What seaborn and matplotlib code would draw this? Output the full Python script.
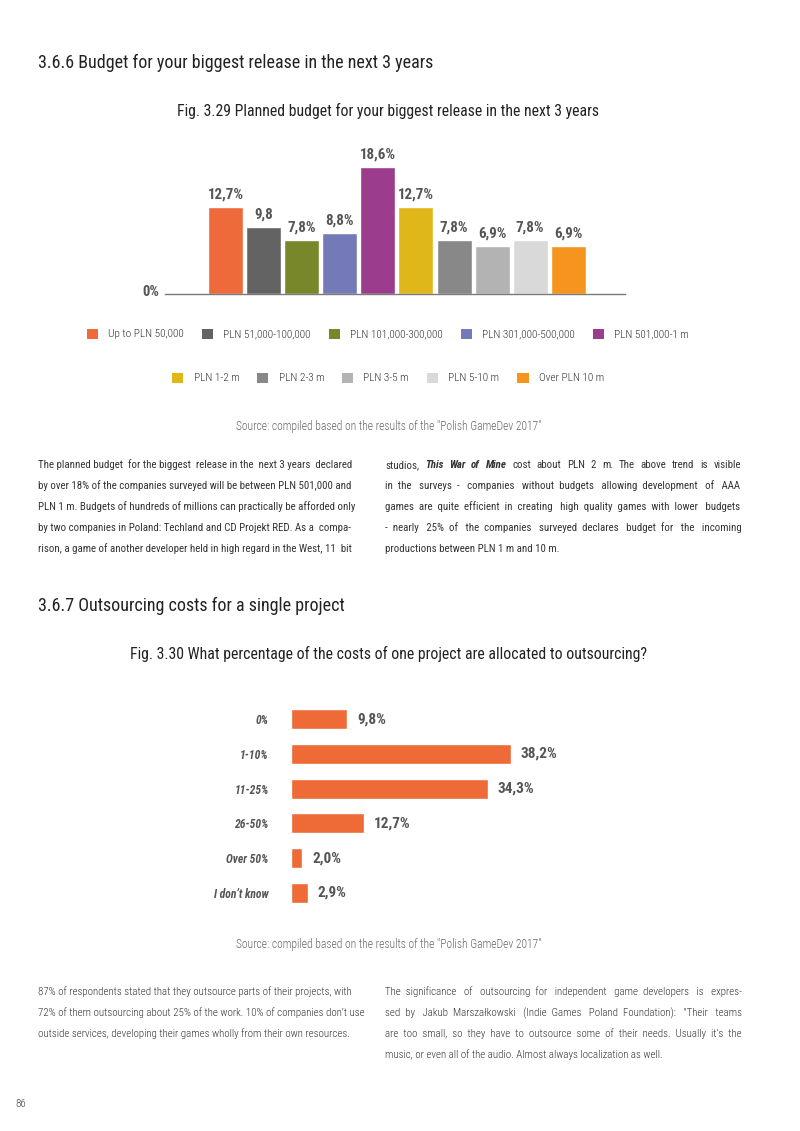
import matplotlib
matplotlib.use("Agg")
import matplotlib.pyplot as plt
import seaborn as sns
import pandas as pd
from matplotlib.patches import Patch

# data
budget_labels = ["Up to PLN 50,000", "PLN 51,000-100,000", "PLN 101,000-300,000",
                 "PLN 301,000-500,000", "PLN 501,000-1 m", "PLN 1-2 m", "PLN 2-3 m",
                 "PLN 3-5 m", "PLN 5-10 m", "Over PLN 10 m"]
budget_values = [12.7, 9.8, 7.8, 8.8, 18.6, 12.7, 7.8, 6.9, 7.8, 6.9]
budget_texts = ["12,7%", "9,8", "7,8%", "8,8%", "18,6%", "12,7%", "7,8%", "6,9%", "7,8%", "6,9%"]
budget_colors = ["#EE6A3A", "#636363", "#788729", "#7479B8", "#9B3C8C",
                 "#E0B719", "#888888", "#B3B3B3", "#D9D9D9", "#F5951F"]

outsourcing_labels = ["0%", "1-10%", "11-25%", "26-50%", "Over 50%", "I don\u2019t know"]
outsourcing_values = [9.8, 38.2, 34.3, 12.7, 2.0, 2.9]

para1_left = [
    "The planned budget for the biggest release in the next 3 years declared",
    "by over 18% of the companies surveyed will be between PLN 501,000 and",
    "PLN 1 m. Budgets of hundreds of millions can practically be afforded only",
    "by two companies in Poland: Techland and CD Projekt RED. As a compa-",
    "rison, a game of another developer held in high regard in the West, 11 bit",
]
para1_right = [
    "studios, *This War of Mine* cost about PLN 2 m. The above trend is visible",
    "in the surveys - companies without budgets allowing development of AAA",
    "games are quite efficient in creating high quality games with lower budgets",
    "- nearly 25% of the companies surveyed declares budget for the incoming",
    "productions between PLN 1 m and 10 m.",
]
para2_left = [
    "87% of respondents stated that they outsource parts of their projects, with",
    "72% of them outsourcing about 25% of the work. 10% of companies don\u2019t use",
    "outside services, developing their games wholly from their own resources.",
]
para2_right = [
    "The significance of outsourcing for independent game developers is expres-",
    "sed by Jakub Marsza\u0142kowski (Indie Games Poland Foundation): \"Their teams",
    "are too small, so they have to outsource some of their needs. Usually it\u2019s the",
    "music, or even all of the audio. Almost always localization as well.",
]
source_note = "Source: compiled based on the results of the \"Polish GameDev 2017\""

sns.set_style("white")
plt.rcParams["font.family"] = ["Roboto Condensed", "DejaVu Sans"]

W, H = 800, 1131
fig = plt.figure(figsize=(W / 100, H / 100), dpi=100)
renderer = fig.canvas.get_renderer()
DARK = "#222222"
GREY = "#555555"


def fx(x):
    return x / W


def fy(y):
    return 1 - y / H


def add_ax(left, top, width, height):
    return fig.add_axes([fx(left), fy(top + height), width / W, height / H])


def text_width(s, **kw):
    t = fig.text(0, 0, s, **kw)
    w = t.get_window_extent(renderer).width
    t.remove()
    return w


def paragraph(lines, x0, x1, y0, size, weight, justify_last=False, step=21):
    kw = dict(size=size, weight=weight, color="#333333", va="baseline")
    sp = text_width("a b", size=size, weight=weight) - text_width("ab", size=size, weight=weight)
    for k, line in enumerate(lines):
        y = fy(y0 + k * step)
        justify = justify_last or k < len(lines) - 1
        if "*" not in line:
            words = line.split(" ")
            if justify and len(words) > 1:
                extra = round((x1 - x0 - text_width(line, size=size, weight=weight)) / sp)
                extra = max(extra, 0)
                gaps = len(words) - 1
                out = words[0]
                for i, w in enumerate(words[1:]):
                    n = 1 + (extra * (i + 1)) // gaps - (extra * i) // gaps
                    out += " " * n + w
                line = out
            fig.text(fx(x0), y, line, **kw)
            continue
        # line with a bold italic title: place word by word
        words, styled, inside = [], [], False
        for w in line.split(" "):
            if w.startswith("*"):
                inside = True
            words.append(w.strip("*"))
            styled.append(inside)
            if w.endswith("*"):
                inside = False
        texts, widths = [], []
        for w, s in zip(words, styled):
            t = fig.text(0, y, w, **dict(kw, weight="bold" if s else weight,
                                         style="italic" if s else "normal"))
            texts.append(t)
            widths.append(t.get_window_extent(renderer).width)
        gap = (x1 - x0 - sum(widths)) / (len(words) - 1) if justify else sp
        x = x0
        for t, w in zip(texts, widths):
            t.set_x(fx(x))
            x += w + gap


# ---- section 3.6.6 ----
fig.text(fx(38), fy(68), "3.6.6 Budget for your biggest release in the next 3 years",
         size=13, color=DARK, va="baseline")
fig.text(fx(388), fy(116), "Fig. 3.29 Planned budget for your biggest release in the next 3 years",
         size=11.3, color=DARK, ha="center", va="baseline")

df1 = pd.DataFrame({"budget": budget_labels, "value": budget_values})
ax1 = add_ax(165, 140, 460, 153.5)
sns.barplot(data=df1, x="budget", y="value", hue="budget", order=budget_labels,
            hue_order=budget_labels, palette=budget_colors, saturation=1, width=0.92,
            legend=False, ax=ax1)
ax1.set_xlim(-1.59, 10.49)
ax1.set_ylim(0, 22.5)
ax1.set_xticks([])
ax1.set_yticks([])
ax1.set_xlabel("")
ax1.set_ylabel("")
for s in ["top", "left", "right"]:
    ax1.spines[s].set_visible(False)
ax1.spines["bottom"].set_color("#7a7a7a")
ax1.spines["bottom"].set_linewidth(1)
for i, (v, t) in enumerate(zip(budget_values, budget_texts)):
    ax1.annotate(t, (i, v), xytext=(0, 4), textcoords="offset points", ha="center",
                 va="bottom", size=10.8, weight="bold", color=GREY)
ax1.annotate("0%", (0, 0), xycoords=("axes fraction", "data"), xytext=(-4, 1),
             textcoords="offset points", ha="right", va="center", size=10.5,
             weight="bold", color=GREY, annotation_clip=False)

handles = [Patch(facecolor=c, edgecolor="none") for c in budget_colors]
for rows, yc in ((slice(0, 5), 334), (slice(5, 10), 378)):
    fig.legend(handles[rows], budget_labels[rows], loc="center",
               bbox_to_anchor=(fx(388), fy(yc)), ncol=5, frameon=False,
               prop={"size": 8.1, "weight": "light"}, labelcolor="#333333",
               handlelength=1.0, handleheight=1.0, handletextpad=0.9,
               columnspacing=1.6, borderaxespad=0)

fig.text(fx(389), fy(430), source_note, size=8.3, weight="light", color="#666666",
         ha="center", va="baseline")

paragraph(para1_left, 38, 352, 468, size=7.8, weight="normal", justify_last=True)
paragraph(para1_right, 385, 741, 468, size=7.8, weight="normal")

# ---- section 3.6.7 ----
fig.text(fx(38), fy(611), "3.6.7 Outsourcing costs for a single project",
         size=13, color=DARK, va="baseline")
fig.text(fx(388), fy(659),
         "Fig. 3.30 What percentage of the costs of one project are allocated to outsourcing?",
         size=11.3, color=DARK, ha="center", va="baseline")

df2 = pd.DataFrame({"share": outsourcing_labels, "value": outsourcing_values})
ax2 = add_ax(291, 700, 300, 212)
sns.barplot(data=df2, y="share", x="value", order=outsourcing_labels, color="#EE6A37",
            saturation=1, width=0.575, ax=ax2)
ax2.set_xlim(0, 52.2)
ax2.set_ylim(5.55, -0.55)
ax2.set_xticks([])
ax2.set_xlabel("")
ax2.set_ylabel("")
ax2.tick_params(axis="y", length=0, pad=16)
for lab in ax2.get_yticklabels():
    lab.set_fontsize(8.4)
    lab.set_fontweight("bold")
    lab.set_fontstyle("italic")
    lab.set_color(GREY)
sns.despine(ax=ax2, left=True, bottom=True)
for i, v in enumerate(outsourcing_values):
    ax2.annotate(f"{v:.1f}".replace(".", ",") + "%", (v, i), xytext=(7, 0),
                 textcoords="offset points", ha="left", va="center", size=11,
                 weight="bold", color=GREY)

fig.text(fx(389), fy(948), source_note, size=8.3, weight="light", color="#666666",
         ha="center", va="baseline")

paragraph(para2_left, 38, 352, 995, size=7.8, weight="light")
paragraph(para2_right, 385, 741, 995, size=7.8, weight="light")

fig.text(fx(15), fy(1107), "86", size=7.8, weight="light", color="#333333", va="baseline")

fig.savefig("out.png", dpi=100)
